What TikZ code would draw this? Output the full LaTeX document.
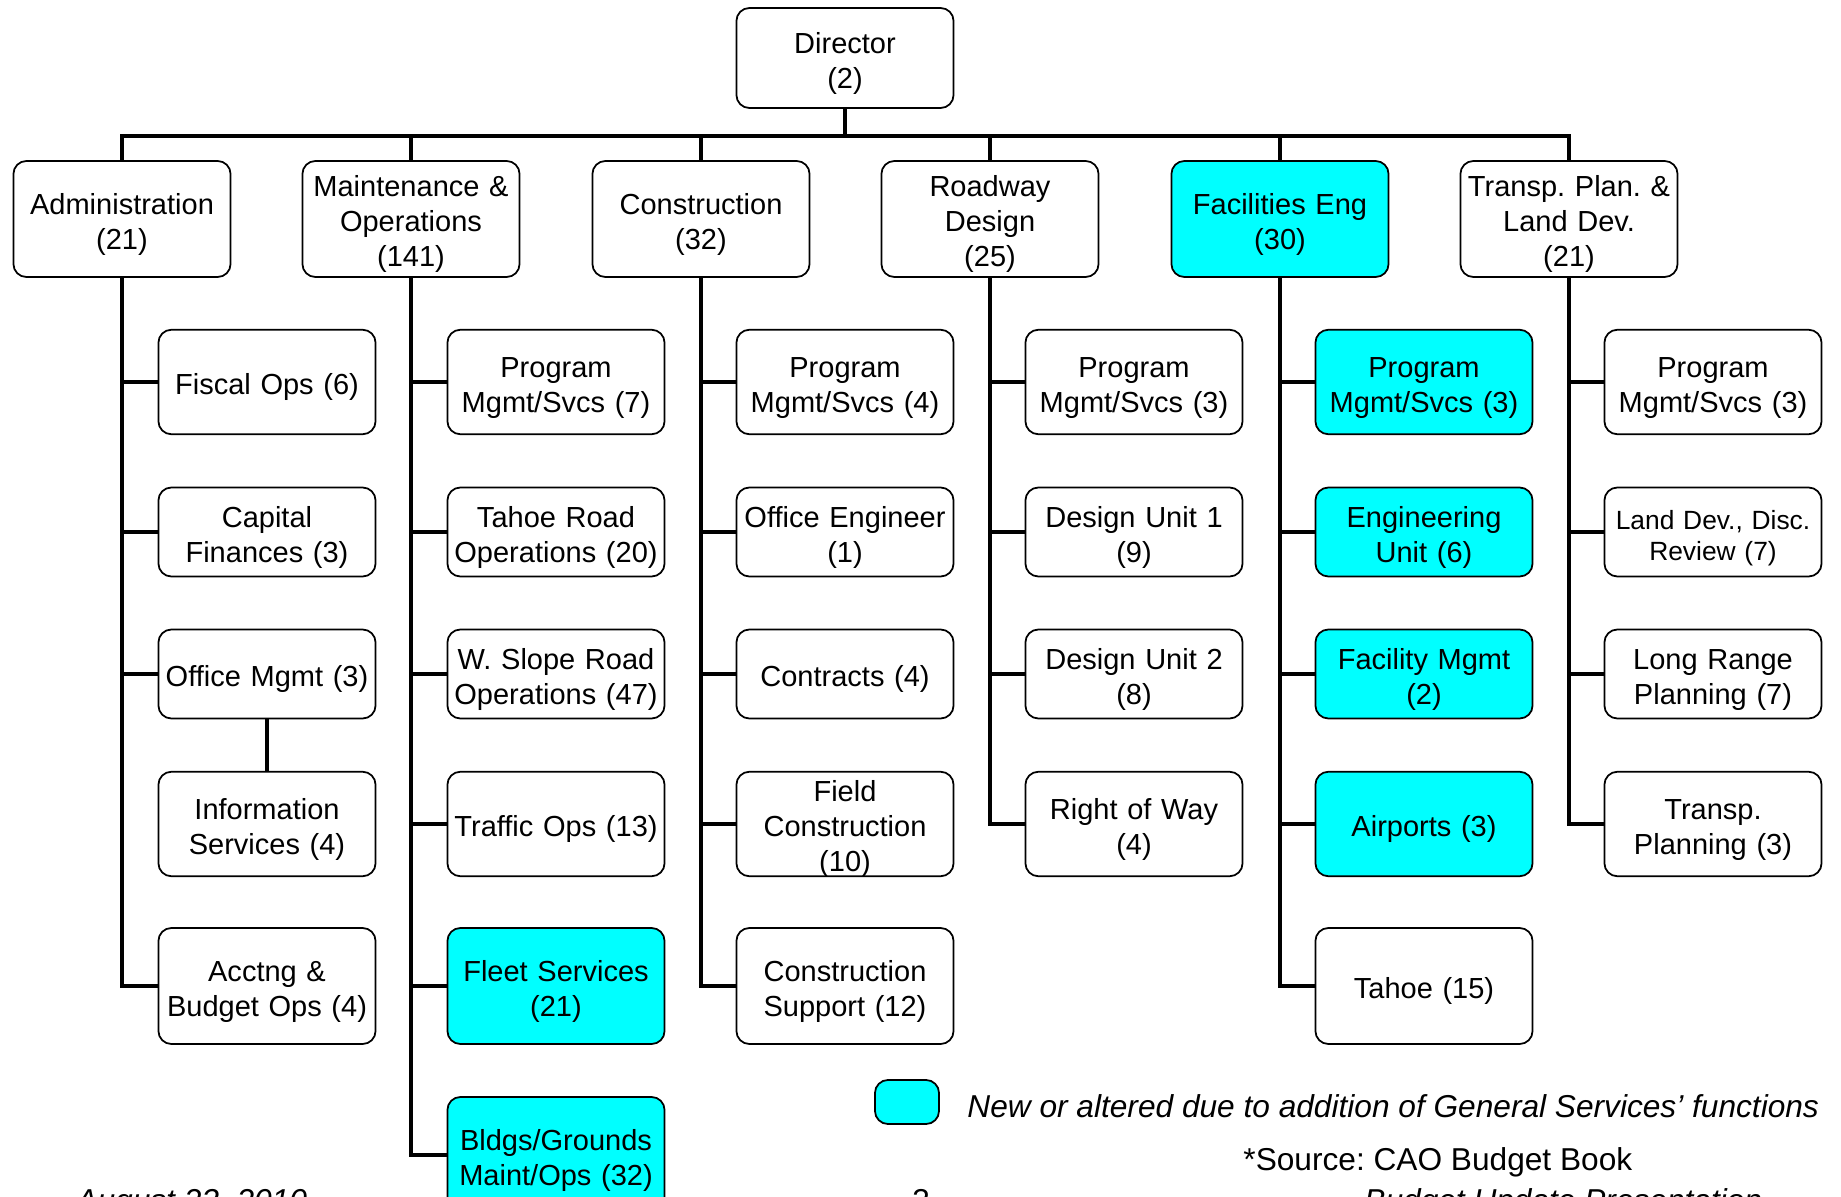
\documentclass[tikz,border=0pt]{standalone}
\usepackage{fontspec}
\setmainfont{Liberation Sans}
\definecolor{gscyan}{RGB}{0,255,255}
\frenchspacing

\begin{document}
\begin{tikzpicture}[%
        x = 0.01cm,
        y = -0.01cm,
        line width = 1.4pt,
        unit/.style = {draw, line width = 0.5pt, rounded corners = 0.13cm,
            fill = white, text width = 2.1cm, align = center,
            minimum width = 2.16cm, inner sep = 1pt,
            font = \fontsize{8.25}{10}\selectfont,
            execute at begin node = {\rule{0pt}{9pt}}},
        headbox/.style = {unit, minimum height = 1.16cm},
        slimbox/.style = {unit, minimum height = 0.89cm},
        midbox/.style = {unit, minimum height = 1.045cm},
        bigbox/.style = {unit, minimum height = 1.16cm},
        gsbox/.style = {fill = gscyan},
        keybox/.style = {draw, line width = 0.5pt, rounded corners = 0.13cm,
            fill = gscyan, minimum width = 0.64cm, minimum height = 0.44cm},
        notetext/.style = {inner sep = 0, font = \fontsize{9}{11}\selectfont}
    ]

        \useasboundingbox (0, 0) rectangle (1841, 1197);

        % Director and the divisions below it.
        \node[unit, minimum height = 1cm] (dir) at (845, 58) {Director\\(2)};

        \node[headbox] (adm) at (122, 219) {Administration\\(21)};
        \node[headbox, inner ysep = -1pt] (mo) at (411, 219) {Maintenance \&\\Operations\\(141)};
        \node[headbox] (con) at (701, 219) {Construction\\(32)};
        \node[headbox, inner ysep = -1pt] (rd) at (990, 219) {Roadway\\Design\\(25)};
        \node[headbox, gsbox] (fac) at (1280, 219) {Facilities Eng\\(30)};
        \node[headbox, inner ysep = -1pt] (tp) at (1569, 219) {Transp. Plan. \&\\Land Dev.\\(21)};

        % Administration.
        \node[midbox] (fisc) at (267, 382) {Fiscal Ops (6)};
        \node[slimbox] (capf) at (267, 532) {Capital\\Finances (3)};
        \node[slimbox] (offm) at (267, 674) {Office Mgmt (3)};
        \node[midbox] (info) at (267, 824) {Information\\Services (4)};
        \node[bigbox] (acct) at (267, 986) {Acctng \&\\Budget Ops (4)};

        % Maintenance and operations.
        \node[midbox] (mopm) at (556, 382) {Program\\Mgmt/Svcs (7)};
        \node[slimbox] (tahr) at (556, 532) {Tahoe Road\\Operations (20)};
        \node[slimbox] (wsr) at (556, 674) {W. Slope Road\\Operations (47)};
        \node[midbox] (traf) at (556, 824) {Traffic Ops (13)};
        \node[bigbox, gsbox] (flt) at (556, 986) {Fleet Services\\(21)};
        \node[bigbox, gsbox] (bldg) at (556, 1155) {Bldgs/Grounds\\Maint/Ops (32)};

        % Construction.
        \node[midbox] (copm) at (845, 382) {Program\\Mgmt/Svcs (4)};
        \node[slimbox] (offe) at (845, 532) {Office Engineer\\(1)};
        \node[slimbox] (ctr) at (845, 674) {Contracts (4)};
        \node[midbox, inner ysep = -2pt] (fld) at (845, 824) {Field\\Construction\\(10)};
        \node[bigbox] (csup) at (845, 986) {Construction\\Support (12)};

        % Roadway design.
        \node[midbox] (rdpm) at (1134, 382) {Program\\Mgmt/Svcs (3)};
        \node[slimbox] (du1) at (1134, 532) {Design Unit 1\\(9)};
        \node[slimbox] (du2) at (1134, 674) {Design Unit 2\\(8)};
        \node[midbox] (row) at (1134, 824) {Right of Way\\(4)};

        % Facilities engineering.
        \node[midbox, gsbox] (fepm) at (1424, 382) {Program\\Mgmt/Svcs (3)};
        \node[slimbox, gsbox] (engu) at (1424, 532) {Engineering\\Unit (6)};
        \node[slimbox, gsbox] (facm) at (1424, 674) {Facility Mgmt\\(2)};
        \node[midbox, gsbox] (airp) at (1424, 824) {Airports (3)};
        \node[bigbox] (tah) at (1424, 986) {Tahoe (15)};

        % Transportation planning.
        \node[midbox] (tppm) at (1713, 382) {Program\\Mgmt/Svcs (3)};
        \node[slimbox, font = \fontsize{7.5}{9}\selectfont] (ldev) at (1713, 532)
            {Land Dev., Disc.\\Review (7)};
        \node[slimbox] (lrp) at (1713, 674) {Long Range\\Planning (7)};
        \node[midbox] (tpl) at (1713, 824) {Transp.\\Planning (3)};

        % Bus from the director to the divisions.
        \coordinate (bus) at (845, 136);
        \draw (dir.south) -- (bus);
        \draw (bus) -| (adm.north) (bus) -| (mo.north) (bus) -| (con.north)
            (bus) -| (rd.north) (bus) -| (fac.north) (bus) -| (tp.north);

        % Lines from each division to its units.
        \draw (adm.south) |- (fisc.west) (adm.south) |- (capf.west)
            (adm.south) |- (offm.west) (adm.south) |- (acct.west);
        \draw (offm.south) -- (info.north);
        \draw (mo.south) |- (mopm.west) (mo.south) |- (tahr.west)
            (mo.south) |- (wsr.west) (mo.south) |- (traf.west)
            (mo.south) |- (flt.west) (mo.south) |- (bldg.west);
        \draw (con.south) |- (copm.west) (con.south) |- (offe.west)
            (con.south) |- (ctr.west) (con.south) |- (fld.west)
            (con.south) |- (csup.west);
        \draw (rd.south) |- (rdpm.west) (rd.south) |- (du1.west)
            (rd.south) |- (du2.west) (rd.south) |- (row.west);
        \draw (fac.south) |- (fepm.west) (fac.south) |- (engu.west)
            (fac.south) |- (facm.west) (fac.south) |- (airp.west)
            (fac.south) |- (tah.west);
        \draw (tp.south) |- (tppm.west) (tp.south) |- (ldev.west)
            (tp.south) |- (lrp.west) (tp.south) |- (tpl.west);

        % Key and notes.
        \node[keybox] (key) at (907, 1102) {};
        \node[notetext, anchor = west, font = \fontsize{9}{11}\selectfont\itshape]
            (keytext) at (965, 1106)
            {New or altered due to addition of General Services’ functions};
        \node[notetext, anchor = west] (src) at (1241, 1162) {*Source: CAO Budget Book};

        % Footer, cut off by the edge of the page.
        \node[notetext, anchor = base west, font = \fontsize{9}{11}\selectfont\itshape]
            (date) at (74, 1211) {August 23, 2010};
        \node[notetext, anchor = base west] (page) at (910, 1211) {3};
        \node[notetext, anchor = base west, font = \fontsize{9}{11}\selectfont\itshape]
            (title) at (1362, 1211) {Budget Update Presentation};
    \end{tikzpicture}
\end{document}
